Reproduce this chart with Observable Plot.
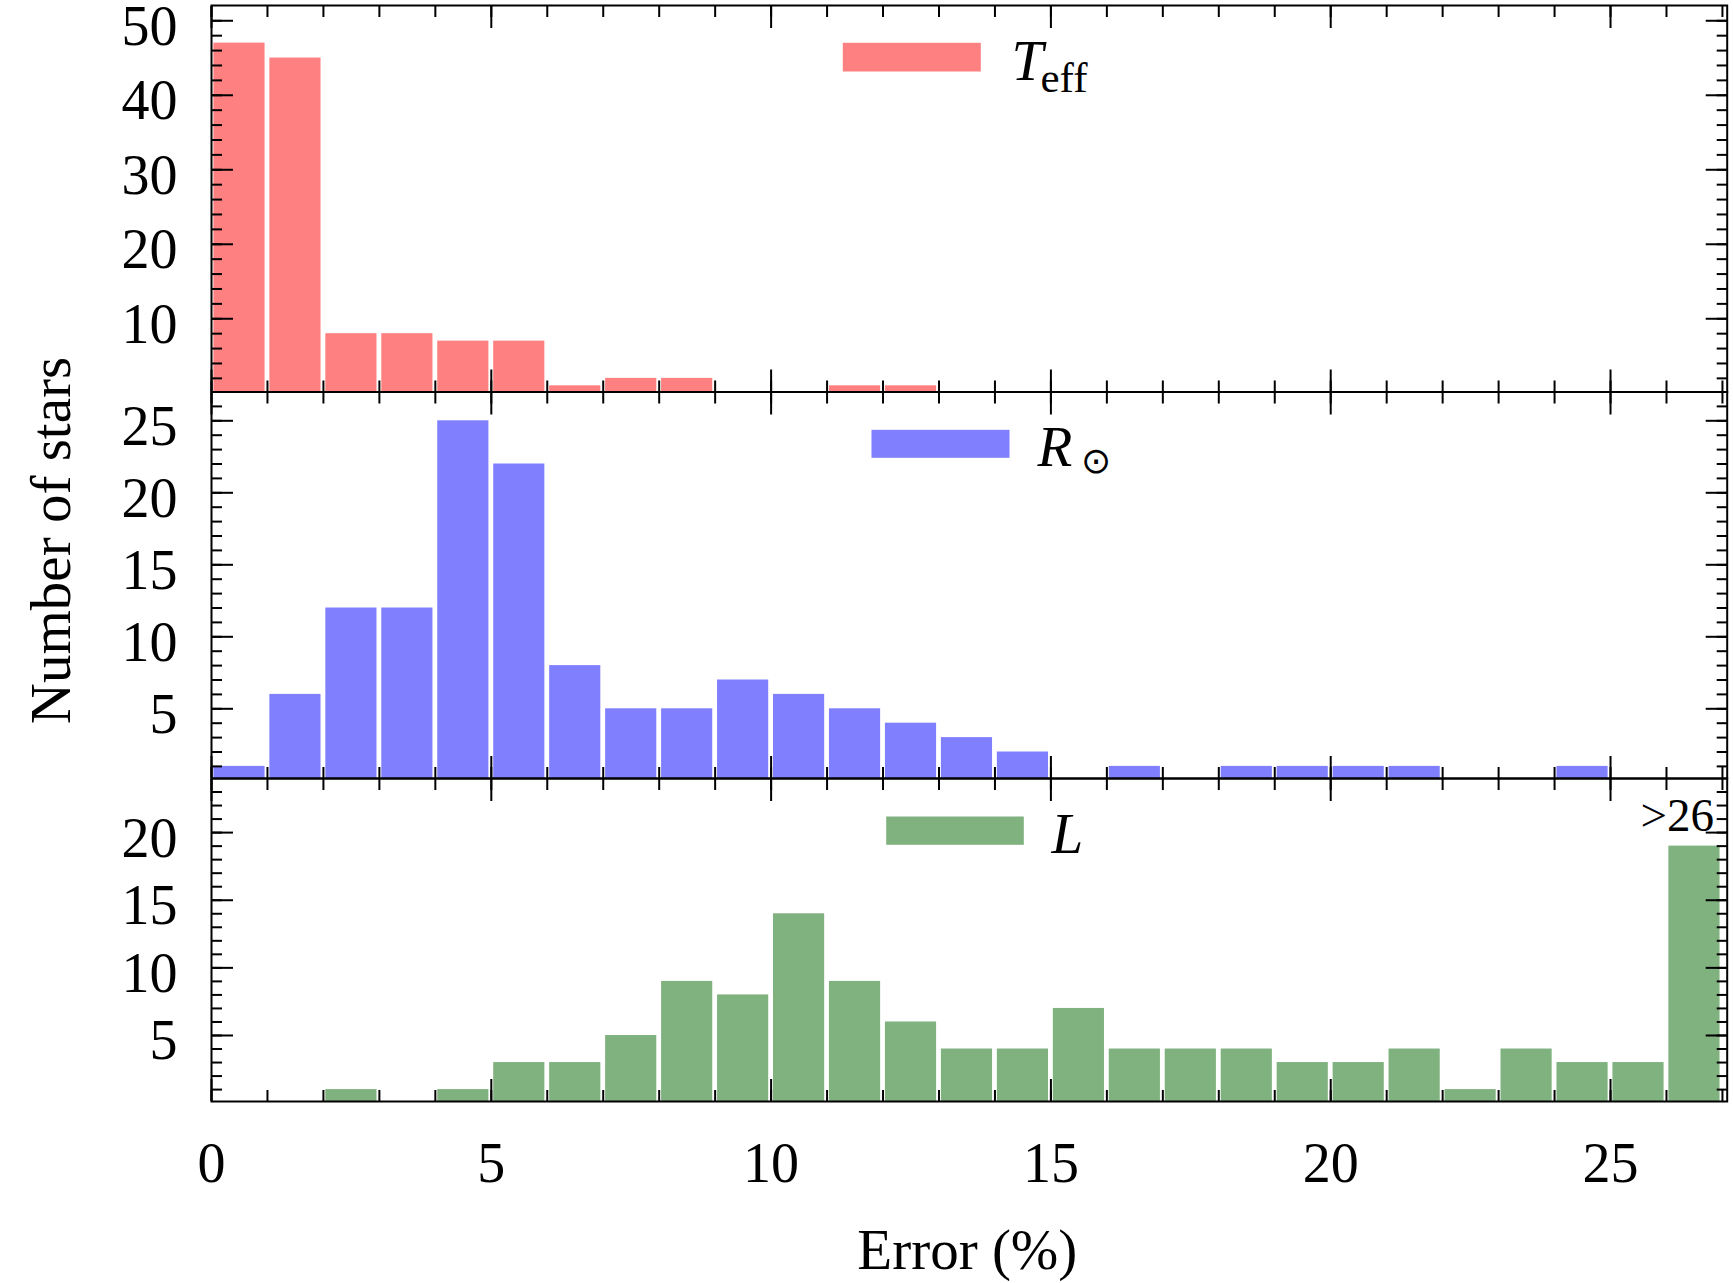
<!DOCTYPE html>
<html>
<head>
<meta charset="utf-8">
<script src="https://cdn.jsdelivr.net/npm/d3@7"></script>
<script src="https://cdn.jsdelivr.net/npm/@observablehq/plot@0.6"></script>
<style>
  html, body { margin: 0; padding: 0; background: #fff; }
  #chart { position: relative; width: 1733px; height: 1283px; }
  #chart svg { position: absolute; left: 0; }
</style>
</head>
<body>
<div id="chart"></div>
<script>
// ---- data ----
const binEdges = d3.range(0, 27);            // left edges of 1%-wide bins (last = ">26")
const teffCounts = [47,45,8,8,7,7,1,2,2,0,0,1,1,0,0,0,0,0,0,0,0,0,0,0,0,0,0];
const rsunCounts = [1,6,12,12,25,22,8,5,5,7,6,5,4,3,2,0,1,0,1,1,1,1,0,0,1,0,0];
const lumCounts  = [0,0,1,0,1,3,3,5,9,8,14,9,6,4,4,7,4,4,4,3,3,4,1,4,3,3,19];
const xMajor = [0, 5, 10, 15, 20, 25];
const xMinor = d3.range(0, 28);
const xDomain = [0, 27.085];
const teffYMajor = [10, 20, 30, 40, 50];
const teffYMinor = d3.range(2, 52, 2);
const rsunYMajor = [5, 10, 15, 20, 25];
const rsunYMinor = d3.range(1, 27);
const lumYMajor = [5, 10, 15, 20];
const lumYMinor = d3.range(1, 24);
const colors = {teff: "#ff8080", rsun: "#8080ff", lum: "#80b280"};

const W = 1733, ML = 211, MR = W - 1726.7;
const serif = "'Liberation Serif', 'Times New Roman', 'DejaVu Serif', serif";

function ticksMarks(yMajor, yMinor, xLabels) {
  const common = {stroke: "black", strokeWidth: 2, fill: "none", label: null};
  const m = [];
  for (const anchor of ["bottom", "top"]) {
    m.push(Plot.axisX(xMinor, {...common, anchor, tickSize: -11}));
    m.push(Plot.axisX(xMajor, {...common, anchor, tickSize: -22}));
  }
  for (const anchor of ["left", "right"]) {
    m.push(Plot.axisY(yMinor, {...common, anchor, tickSize: -11}));
    m.push(Plot.axisY(yMajor, {...common, anchor, tickSize: -22}));
  }
  m.push(Plot.axisY(yMajor, {anchor: "left", tickSize: 0, tickPadding: 34, dy: 6,
    fontSize: 56, fill: "black", label: null}));
  if (xLabels) {
    m.push(Plot.axisX(xMajor, {anchor: "bottom", tickSize: 0, tickPadding: 41,
      fontSize: 56, fill: "black", label: null}));
  }
  return m;
}

function bars(counts, color) {
  const data = binEdges.map((b, i) => ({x1: b, x2: b + 1, n: counts[i]})).filter(d => d.n > 0);
  return Plot.rectY(data, {x1: "x1", x2: "x2", y: "n", fill: color,
    insetLeft: 2.4, insetRight: 2.4, clip: true});
}

function panel({counts, color, yDomain, yMajor, yMinor, top, height, marginTop, marginBottom, extra, xLabels}) {
  const svg = Plot.plot({
    width: W, height, marginLeft: ML, marginRight: MR, marginTop, marginBottom,
    style: {fontFamily: serif, background: "transparent", overflow: "visible", color: "black"},
    x: {domain: xDomain, axis: null},
    y: {domain: yDomain, axis: null},
    marks: [
      bars(counts, color),
      ...extra,
      Plot.frame({stroke: "black", strokeWidth: 2}),
      ...ticksMarks(yMajor, yMinor, xLabels)
    ]
  });
  svg.style.top = top + "px";
  return svg;
}

const chart = document.getElementById("chart");

// Panel 1: Teff  (frame 5 .. 391.5, width 211 .. 1726.7)
chart.appendChild(panel({
  counts: teffCounts, color: colors.teff, yDomain: [0.17, 52.05],
  yMajor: teffYMajor, yMinor: teffYMinor, top: 0, height: 400, marginTop: 5, marginBottom: 8.5,
  xLabels: false,
  extra: [
    Plot.frame({fill: colors.teff, stroke: null, insetLeft: 631.3, insetRight: 746.4, insetTop: 37.3, insetBottom: 320.5}),
    Plot.text(["T"], {frameAnchor: "top-left", dx: 800, dy: 74, lineAnchor: "bottom", textAnchor: "start",
      fontSize: 57, fontStyle: "italic", fill: "black"}),
    Plot.text(["eff"], {frameAnchor: "top-left", dx: 829, dy: 86, lineAnchor: "bottom", textAnchor: "start",
      fontSize: 43, fill: "black"})
  ]
}));

// Panel 2: R_sun (frame 391.5 .. 778)
chart.appendChild(panel({
  counts: rsunCounts, color: colors.rsun, yDomain: [0.16, 27.0],
  yMajor: rsunYMajor, yMinor: rsunYMinor, top: 340, height: 450, marginTop: 51.5, marginBottom: 12,
  xLabels: false,
  extra: [
    Plot.frame({fill: colors.rsun, stroke: null, insetLeft: 660, insetRight: 717.7, insetTop: 37.8, insetBottom: 320.7}),
    Plot.text(["R"], {frameAnchor: "top-left", dx: 826, dy: 73.5, lineAnchor: "bottom", textAnchor: "start",
      fontSize: 57, fontStyle: "italic", fill: "black"}),
    Plot.text(["\u2299"], {frameAnchor: "top-left", dx: 884.7, dy: 69.2, lineAnchor: "middle", textAnchor: "middle",
      fontSize: 36, fontFamily: "DejaVu Sans", fill: "black"}),
    Plot.text(["Number of stars"], {frameAnchor: "left", dx: -142, dy: -44.75, rotate: -90,
      lineAnchor: "bottom", textAnchor: "middle", fontSize: 57, fill: "black"})
  ]
}));

// Panel 3: L (frame 778 .. 1101)
chart.appendChild(panel({
  counts: lumCounts, color: colors.lum, yDomain: [0.12, 24.0],
  yMajor: lumYMajor, yMinor: lumYMinor, top: 770, height: 513, marginTop: 8, marginBottom: 182,
  xLabels: true,
  extra: [
    Plot.frame({fill: colors.lum, stroke: null, insetLeft: 674.7, insetRight: 703.4, insetTop: 38, insetBottom: 256.7}),
    Plot.text(["L"], {frameAnchor: "top-left", dx: 840, dy: 74.3, lineAnchor: "bottom", textAnchor: "start",
      fontSize: 57, fontStyle: "italic", fill: "black"}),
    Plot.text([">26"], {frameAnchor: "top-left", dx: 1429, dy: 52.7, lineAnchor: "bottom", textAnchor: "start",
      fontSize: 47, fill: "black"}),
    Plot.text(["Error (%)"], {frameAnchor: "bottom", dx: -2, dy: 167, lineAnchor: "bottom", textAnchor: "middle",
      fontSize: 57, fill: "black"})
  ]
}));
</script>
</body>
</html>
